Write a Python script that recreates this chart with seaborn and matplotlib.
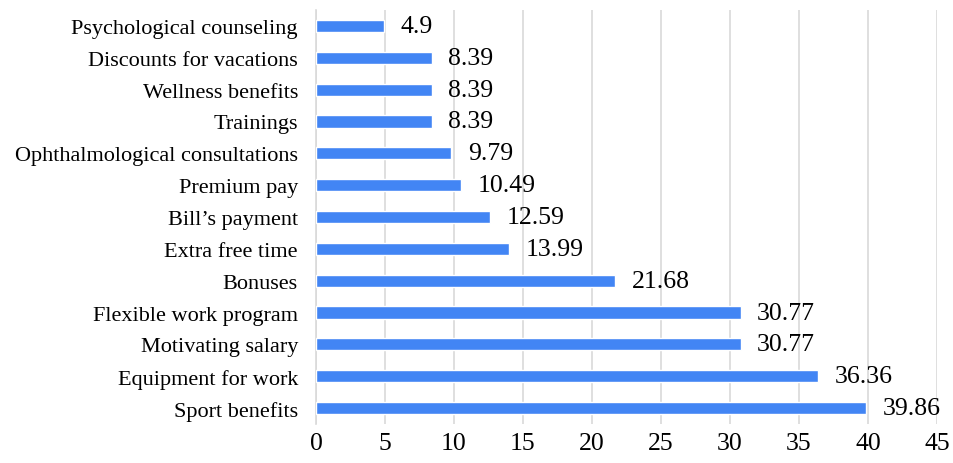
import matplotlib
matplotlib.use("Agg")
import matplotlib.pyplot as plt
import seaborn as sns
import pandas as pd

categories = ["Psychological counseling", "Discounts for vacations", "Wellness benefits",
              "Trainings", "Ophthalmological consultations", "Premium pay", "Bill\u2019s payment",
              "Extra free time", "Bonuses", "Flexible work program", "Motivating salary",
              "Equipment for work", "Sport benefits"]
values = [4.9, 8.39, 8.39, 8.39, 9.79, 10.49, 12.59, 13.99, 21.68, 30.77, 30.77, 36.36, 39.86]
value_labels = ["4.9", "8.39", "8.39", "8.39", "9.79", "10.49", "12.59", "13.99", "21.68",
                "30.77", "30.77", "36.36", "39.86"]
x_ticks = [0, 5, 10, 15, 20, 25, 30, 35, 40, 45]

df = pd.DataFrame({"category": categories, "value": values})

sns.set_theme(style="white")
plt.rcParams["font.family"] = ["Liberation Serif", "DejaVu Serif"]

fig = plt.figure(figsize=(9.54, 4.64), dpi=100)
ax = fig.add_axes([0.3312, 0.0841, 0.6510, 0.8922])

sns.barplot(data=df, y="category", x="value", orient="h", color="#4285f4",
            saturation=1, width=0.38, ax=ax, zorder=3)

ax.set_xlim(0, 45)
ax.set_ylim(12.5, -0.5)
ax.set_xticks(x_ticks)
ax.set_xticklabels([str(t) for t in x_ticks], fontsize=18.5)
ax.tick_params(axis="y", labelsize=16, length=0, pad=13, labelcolor="#000000")
ax.tick_params(axis="x", length=0, pad=6, labelcolor="#000000")
ax.set_xlabel("")
ax.set_ylabel("")
ax.grid(axis="x", color="#d9d9d9", linewidth=1.2, zorder=0)
ax.grid(axis="y", visible=False)
for s in ["top", "right", "bottom"]:
    ax.spines[s].set_visible(False)
ax.spines["left"].set_color("#d9d9d9")
ax.spines["left"].set_linewidth(1.2)

for i, (v, lab) in enumerate(zip(values, value_labels)):
    ax.text(v + 1.2, i, lab, va="center", ha="left", fontsize=18.5, color="#000000")

fig.savefig("out.png", dpi=100)
